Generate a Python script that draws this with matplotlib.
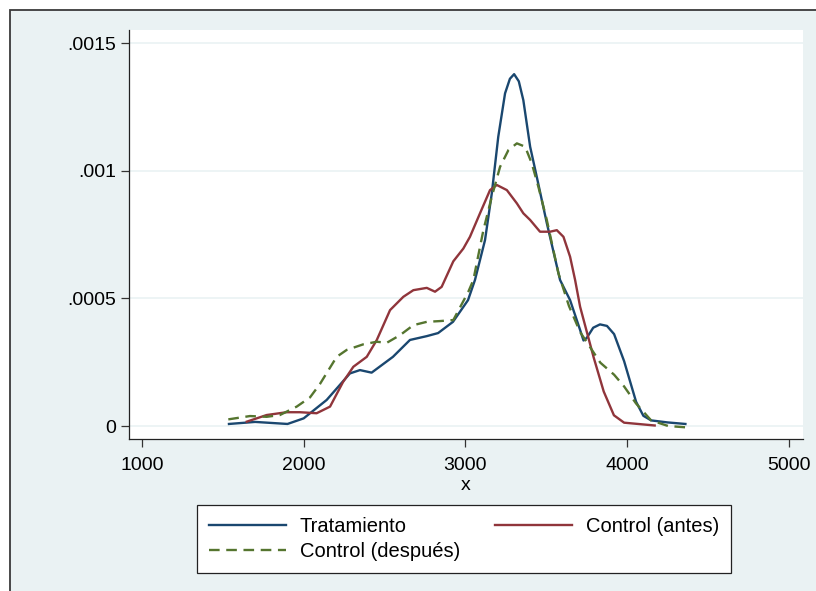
import numpy as np
import matplotlib.pyplot as plt
from matplotlib.patches import Rectangle

plt.rcParams['font.family'] = ['Liberation Sans', 'DejaVu Sans']

#%% Kernel density estimates read off for each group

# Tratamiento
x_trat = [1538, 1700, 1900, 2000, 2142, 2286, 2348, 2420, 2552, 2657, 2761,
          2831, 2923, 3016, 3059, 3121, 3163, 3203, 3245, 3275, 3301, 3330,
          3358, 3400, 3441, 3503, 3585, 3647, 3709, 3730, 3750, 3790, 3832,
          3875, 3919, 3981, 4055, 4100, 4148, 4250, 4360]
y_trat = [0.000008, 0.000016, 0.000008, 0.00003, 0.000102, 0.000206,
          0.000219, 0.000209, 0.000271, 0.000337, 0.000352, 0.000364,
          0.000408, 0.000493, 0.000572, 0.000728, 0.000911, 0.001133,
          0.001303, 0.00136, 0.001378, 0.00135, 0.001276, 0.001094,
          0.000976, 0.000795, 0.000572, 0.000493, 0.000376, 0.000335,
          0.000345, 0.000385, 0.000398, 0.000392, 0.00036, 0.000254,
          0.000095, 0.00004, 0.000022, 0.000014, 0.000008]

# Control (antes)
x_antes = [1648, 1771, 1895, 1977, 2080, 2163, 2243, 2307, 2390, 2452, 2534,
           2616, 2678, 2761, 2812, 2853, 2925, 2987, 3028, 3090, 3152, 3194,
           3256, 3318, 3358, 3400, 3461, 3523, 3565, 3606, 3647, 3678, 3709,
           3793, 3855, 3918, 3981, 4170]
y_antes = [0.000017, 0.000043, 0.000054, 0.000054, 0.00005, 0.000076,
           0.000172, 0.000232, 0.000271, 0.000337, 0.000454, 0.000506,
           0.000532, 0.000541, 0.000526, 0.000545, 0.000645, 0.000695,
           0.000741, 0.000833, 0.000924, 0.000944, 0.000924, 0.000872,
           0.000833, 0.000807, 0.000761, 0.000761, 0.000767, 0.000741,
           0.000663, 0.000572, 0.000467, 0.000268, 0.000135, 0.000042,
           0.000013, 0.000002]

# Control (despues)
x_desp = [1534, 1668, 1771, 1853, 1957, 2039, 2101, 2204, 2266, 2369, 2452,
          2514, 2596, 2678, 2761, 2843, 2925, 3018, 3049, 3111, 3163, 3214,
          3266, 3318, 3369, 3410, 3451, 3503, 3575, 3640, 3709, 3834, 3919,
          3981, 4055, 4148, 4253, 4380]
y_desp = [0.000026, 0.000039, 0.000036, 0.000043, 0.000076, 0.000112,
          0.000165, 0.000271, 0.000298, 0.00032, 0.00033, 0.000326,
          0.000356, 0.000395, 0.000408, 0.000411, 0.000415, 0.000526,
          0.000572, 0.000767, 0.000898, 0.001015, 0.001081, 0.001107,
          0.001094, 0.001029, 0.000937, 0.000807, 0.000598, 0.00047,
          0.000368, 0.000248, 0.000201, 0.000155, 0.000088, 0.000022,
          0.0, -0.000006]

xticks = [1000, 2000, 3000, 4000, 5000]
yticks = [0, 0.0005, 0.001, 0.0015]
ytick_labels = ['0', '.0005', '.001', '.0015']

navy = '#1A476F'
maroon = '#90353B'
green = '#55752F'
bg = '#EAF2F3'

#%% Figure

fig = plt.figure(figsize=(8.16, 5.91), dpi=100, facecolor='white')
# graph region frame
fig.patches.append(Rectangle((10/816, -0.1), 1.2, (591-10)/591 + 0.1,
                             transform=fig.transFigure, facecolor=bg,
                             edgecolor='#3a3a3a', linewidth=1.3, zorder=-10))

ax = fig.add_axes([129/816, 1 - 439/591, (803-129)/816, (439-30)/591])
ax.set_facecolor('white')

ax.plot(x_trat, y_trat, color=navy, lw=1.7, label='Tratamiento')
ax.plot(x_antes, y_antes, color=maroon, lw=1.7, label='Control (antes)')
ax.plot(x_desp, y_desp, color=green, lw=1.7, dashes=(4.5, 2.8),
        label='Control (después)')

ax.set_xlim(920, 5087)
ax.set_ylim(-0.0000509, 0.001551)
ax.set_xticks(xticks)
ax.set_yticks(yticks)
ax.set_yticklabels(ytick_labels)
ax.grid(axis='y', color=bg, lw=1.2)
ax.set_axisbelow(True)

for s in ['top', 'right']:
    ax.spines[s].set_visible(False)
for s in ['left', 'bottom']:
    ax.spines[s].set_color('#222222')
    ax.spines[s].set_linewidth(0.9)

ax.tick_params(axis='x', length=6, width=0.9, color='#333333', pad=7,
               labelsize=14)
ax.tick_params(axis='y', length=6, width=0.9, color='#333333', pad=3,
               labelsize=14)
ax.set_xlabel('x', fontsize=14, labelpad=2)

h, l = ax.get_legend_handles_labels()
order = [0, 2, 1]
leg = fig.legend([h[i] for i in order], [l[i] for i in order], ncol=2,
                 loc='upper left', bbox_to_anchor=(197/816, 1 - 505/591),
                 fontsize=14.5, frameon=True, fancybox=False, framealpha=1,
                 facecolor='white', edgecolor='#222222', handlelength=3.8,
                 handletextpad=0.7, labelspacing=0.3, columnspacing=1.75,
                 borderpad=0.6, borderaxespad=0)
leg.get_frame().set_linewidth(0.9)

fig.savefig('out.png', dpi=100, facecolor='white')
